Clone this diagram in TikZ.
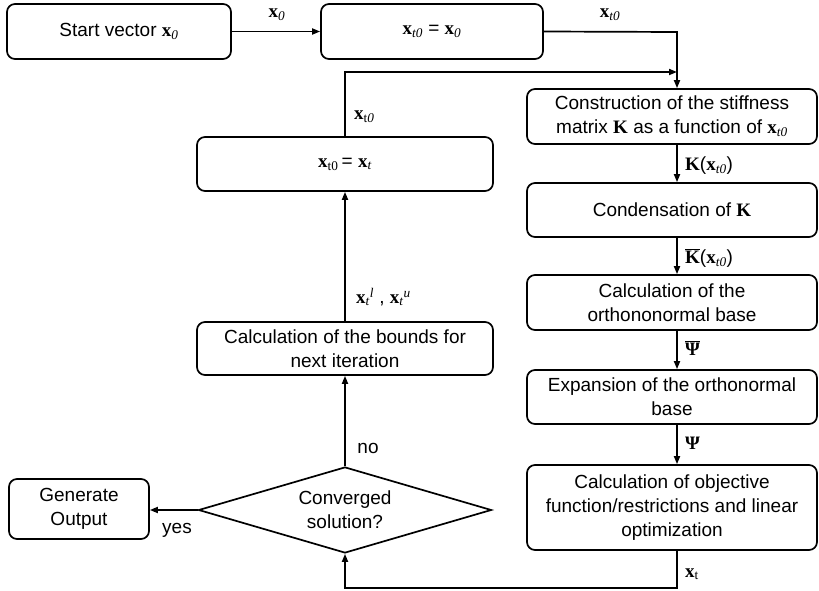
\documentclass[tikz,border=0pt]{standalone}
\usepackage{fontspec}
\setmainfont{Liberation Sans}
\newfontfamily\tms{Liberation Serif}
\usetikzlibrary{shapes.geometric,arrows.meta}
\newcommand{\bx}{{\tms\bfseries x}}
\newcommand{\lsub}[1]{\textsubscript{\tms #1}}
\newcommand{\bK}{{\tms\bfseries K}}
\begin{document}
\begin{tikzpicture}[x=1pt,y=-1pt,
  every node/.style={font=\fontsize{19}{24}\selectfont},
  box/.style={draw,line width=1.7pt,rounded corners=8pt,inner sep=0pt,align=center},
  dia/.style={draw,line width=1.7pt,shape=diamond,aspect=3.4,inner sep=0pt,align=center},
  conn/.style={line width=1.7pt},
  arr/.style={conn,-{Triangle[length=8pt,width=6pt]}},
  lab/.style={inner sep=0pt}]
\useasboundingbox (0,0) rectangle (819,591);
% nodes
\node[box,minimum width=224pt,minimum height=55pt] (start) at (119,31.5) {Start vector \bx\lsub{\itshape 0}};
\node[box,minimum width=222pt,minimum height=55pt] (init) at (432,31.5) {\bx\lsub{\itshape t0} = \bx\lsub{\itshape 0}};
\node[box,minimum width=290pt,minimum height=55pt] (constr) at (672,116.5) {Construction of the stiffness\\matrix \bK{} as a function of \bx\lsub{\itshape t0}};
\node[box,minimum width=290pt,minimum height=54pt] (cond) at (672,210) {Condensation of \bK};
\node[box,minimum width=290pt,minimum height=55pt] (ortho) at (672,302.5) {Calculation of the\\orthononormal base};
\node[box,minimum width=290pt,minimum height=54pt] (expan) at (672,397) {Expansion of the orthonormal\\base};
\node[box,minimum width=290pt,minimum height=85pt] (obj) at (672,507.5) {Calculation of objective\\function/restrictions and linear\\optimization};
\node[box,minimum width=296pt,minimum height=54pt] (upd) at (345,164) {\bx\lsub{t0}\,= \bx\lsub{\itshape t}};
\node[box,minimum width=296pt,minimum height=53pt] (bounds) at (345,348.5) {Calculation of the bounds for\\next iteration};
\node[dia,minimum width=293pt,minimum height=86pt] (dec) at (345,510) {Converged\\solution?};
\node[box,minimum width=140pt,minimum height=60pt] (out) at (79,509) {Generate\\Output};
% helper coordinates
\coordinate (c1) at (677,32);
\coordinate (c2) at (345,72);
\coordinate (c3) at (677,72);
\coordinate (c4) at (677,588);
\coordinate (c5) at (345,588);
% connectors
\draw[arr] (start.east) -- (init.west);
\draw[arr] (init.east) -- (c1) -- (c1 |- constr.north);
\draw[arr] (upd.north) -- (c2) -- (c3);
\draw[arr] (c1 |- constr.south) -- (c1 |- cond.north);
\draw[arr] (c1 |- cond.south) -- (c1 |- ortho.north);
\draw[arr] (c1 |- ortho.south) -- (c1 |- expan.north);
\draw[arr] (c1 |- expan.south) -- (c1 |- obj.north);
\draw[arr] (c1 |- obj.south) -- (c4) -- (c5) -- (dec.south);
\draw[arr] (dec.north) -- (bounds.south);
\draw[arr] (bounds.north) -- (upd.south);
\draw[arr] (dec.west) -- (out.east |- dec.west);
% labels
\node[lab] (l1) at (277,15) {\bx\lsub{\itshape 0}};
\node[lab] (l2) at (610,15) {\bx\lsub{\itshape t0}};
\node[lab,anchor=west] (l3) at (354,117) {\bx\lsub{t\itshape 0}};
\node[lab,anchor=west] (l4) at (685,166) {\bK(\bx\lsub{\itshape t0})};
\node[lab,anchor=west] (l5) at (685,258) {$\overline{\hbox{\bK}}$(\bx\lsub{\itshape t0})};
\node[lab,anchor=west] (l6) at (685,348) {$\overline{\hbox{\tms\bfseries Ψ}}$};
\node[lab,anchor=west] (l7) at (685,443) {{\tms\bfseries Ψ}};
\node[lab,anchor=west] (l8) at (685,574) {\bx\lsub{t}};
\node[lab,anchor=west] (l9) at (356,297) {\bx\lsub{\itshape t}\textsuperscript{\tms\itshape l} , \bx\lsub{\itshape t}\textsuperscript{\tms\itshape u}};
\node[lab] (l10) at (368,448) {no};
\node[lab] (l11) at (177,530) {yes};
\end{tikzpicture}
\end{document}
